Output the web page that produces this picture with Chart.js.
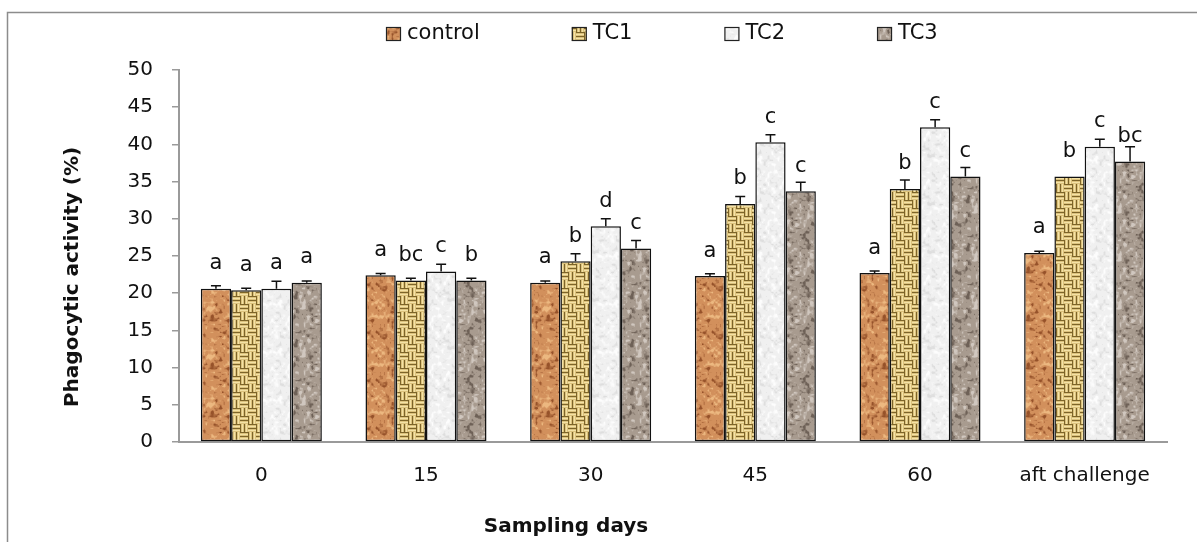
<!DOCTYPE html>
<html>
<head>
<meta charset="utf-8">
<script src="https://cdn.jsdelivr.net/npm/chart.js@4.4.1/dist/chart.umd.min.js"></script>
<style>
  html, body { margin: 0; padding: 0; background: #fff; }
  #wrap { position: relative; width: 1197px; height: 542px; }
</style>
</head>
<body>
<div id="wrap"><canvas id="phago" width="1197" height="542"></canvas></div>
<script>
// data
var categories = ['0', '15', '30', '45', '60', 'aft challenge'];
var seriesNames = ['control', 'TC1', 'TC2', 'TC3'];

var control = [20.6, 22.4, 21.4, 22.3, 22.7, 25.4];
var tc1 = [20.4, 21.7, 24.3, 32.0, 34.0, 35.7];
var tc2 = [20.6, 22.9, 29.0, 40.3, 42.3, 39.7];
var tc3 = [21.4, 21.7, 26.0, 33.7, 35.7, 37.7];

var controlErr = [0.4, 0.25, 0.25, 0.3, 0.3, 0.25];
var tc1Err = [0.25, 0.3, 1.0, 1.0, 1.2, 0];
var tc2Err = [1.0, 1.0, 1.0, 1.0, 1.0, 1.0];
var tc3Err = [0.25, 0.3, 1.1, 1.2, 1.2, 2.0];

var controlLetters = ['a', 'a', 'a', 'a', 'a', 'a'];
var tc1Letters = ['a', 'bc', 'b', 'b', 'b', 'b'];
var tc2Letters = ['a', 'c', 'd', 'c', 'c', 'c'];
var tc3Letters = ['a', 'b', 'c', 'c', 'c', 'bc'];

var yTicks = [0, 5, 10, 15, 20, 25, 30, 35, 40, 45, 50];

var font = '"DejaVu Sans"';
var axisGrey = '#9a9a9a';

// integer hash so the textures come out the same on every run
function hash(i, j, s) {
  var h = (i * 374761393 + j * 668265263 + s * 1442695041) | 0;
  h = Math.imul(h ^ (h >>> 13), 1274126177);
  h = h ^ (h >>> 16);
  return (h >>> 0) / 4294967296;
}

// tileable value noise
function vnoise(x, y, cell, n, s) {
  var gx = x / cell, gy = y / cell;
  var i0 = Math.floor(gx), j0 = Math.floor(gy);
  var fx = gx - i0, fy = gy - j0;
  fx = fx * fx * (3 - 2 * fx); fy = fy * fy * (3 - 2 * fy);
  var i1 = (i0 + 1) % n, j1 = (j0 + 1) % n;
  var a = hash(i0, j0, s), b = hash(i1, j0, s), c = hash(i0, j1, s), d = hash(i1, j1, s);
  return (a * (1 - fx) + b * fx) * (1 - fy) + (c * (1 - fx) + d * fx) * fy;
}

function speckle(base, dark, light, s) {
  var size = 48;
  var c = document.createElement('canvas');
  c.width = size; c.height = size;
  var g = c.getContext('2d');
  var img = g.createImageData(size, size);
  for (var y = 0; y < size; y++) {
    for (var x = 0; x < size; x++) {
      var t = 0.6 * vnoise(x, y, 4, 12, s) + 0.4 * vnoise(x, y, 2, 24, s + 7);
      var col = base, k = 0;
      if (t < 0.4) { col = dark; k = Math.min(1, (0.4 - t) * 5); }
      else if (t > 0.6) { col = light; k = Math.min(1, (t - 0.6) * 5); }
      var p = (y * size + x) * 4;
      for (var ch = 0; ch < 3; ch++) img.data[p + ch] = Math.round(base[ch] * (1 - k) + col[ch] * k);
      img.data[p + 3] = 255;
    }
  }
  g.putImageData(img, 0, 0);
  return g.createPattern(c, 'repeat');
}

function weave() {
  var c = document.createElement('canvas');
  c.width = 16; c.height = 16;
  var g = c.getContext('2d');
  g.fillStyle = '#dcc27c';
  g.fillRect(0, 0, 16, 16);
  for (var by = 0; by < 16; by += 8) {
    for (var bx = 0; bx < 16; bx += 8) {
      var horiz = ((bx + by) / 8) % 2 === 0;
      for (var k = 0; k < 8; k += 4) {
        g.fillStyle = '#7c6429';
        if (horiz) g.fillRect(bx, by + k, 8, 1);
        else g.fillRect(bx + k, by, 1, 8);
        g.fillStyle = '#f4e2a6';
        if (horiz) g.fillRect(bx, by + k + 2, 8, 1);
        else g.fillRect(bx + k + 2, by, 1, 8);
      }
    }
  }
  return g.createPattern(c, 'repeat');
}

var fills = [
  speckle([210, 144, 92], [150, 82, 42], [236, 184, 128], 1),
  weave(),
  speckle([240, 240, 240], [222, 222, 222], [253, 253, 253], 3),
  speckle([168, 155, 143], [110, 97, 87], [208, 199, 191], 4)
];

var values = [control, tc1, tc2, tc3];
var errs = [controlErr, tc1Err, tc2Err, tc3Err];
var letters = [controlLetters, tc1Letters, tc2Letters, tc3Letters];

var datasets = seriesNames.map(function (name, i) {
  return {
    label: name,
    data: values[i],
    errors: errs[i],
    letters: letters[i],
    backgroundColor: fills[i],
    borderColor: '#111',
    borderWidth: 1.5,
    borderSkipped: false,
    categoryPercentage: 0.735,
    barPercentage: 1.0
  };
});

// frame, error bars, letters, legend and axis titles
var decor = {
  id: 'decor',
  beforeDraw: function (chart) {
    var ctx = chart.ctx;
    ctx.save();
    ctx.strokeStyle = '#8c8c8c';
    ctx.lineWidth = 1.5;
    ctx.strokeRect(7.5, 12.5, 1300, 700);
    ctx.restore();
  },
  afterDatasetsDraw: function (chart) {
    var ctx = chart.ctx;
    var y = chart.scales.y;
    ctx.save();
    chart.data.datasets.forEach(function (ds, i) {
      var meta = chart.getDatasetMeta(i);
      meta.data.forEach(function (bar, j) {
        var e = ds.errors[j];
        if (e > 0) {
          var top = y.getPixelForValue(ds.data[j] + e);
          ctx.strokeStyle = '#111';
          ctx.lineWidth = 1.5;
          ctx.beginPath();
          ctx.moveTo(bar.x, bar.y);
          ctx.lineTo(bar.x, top);
          ctx.moveTo(bar.x - 5, top);
          ctx.lineTo(bar.x + 5, top);
          ctx.stroke();
        }
        ctx.fillStyle = '#111';
        ctx.font = '21px ' + font;
        ctx.textAlign = 'center';
        ctx.textBaseline = 'middle';
        ctx.fillText(ds.letters[j], bar.x, bar.y - 25);
      });
    });
    ctx.restore();
  },
  afterDraw: function (chart) {
    var ctx = chart.ctx;
    ctx.save();
    // legend
    ctx.font = '21px ' + font;
    ctx.textBaseline = 'middle';
    ctx.textAlign = 'left';
    var x = 386, yc = 34;
    chart.data.datasets.forEach(function (ds) {
      ctx.fillStyle = ds.backgroundColor;
      ctx.fillRect(x, yc - 7, 15, 14);
      ctx.strokeStyle = '#222';
      ctx.lineWidth = 1.2;
      ctx.strokeRect(x + 0.5, yc - 6.5, 14, 13);
      ctx.fillStyle = '#111';
      ctx.fillText(ds.label, x + 21, yc);
      x += 21 + ctx.measureText(ds.label).width + 92;
    });
    // axis titles
    ctx.font = 'bold 20px ' + font;
    ctx.textAlign = 'center';
    ctx.fillText('Sampling days', 566, 527);
    ctx.translate(73, 277);
    ctx.rotate(-Math.PI / 2);
    ctx.fillText('Phagocytic activity (%)', 0, 0);
    ctx.restore();
  }
};

new Chart(document.getElementById('phago'), {
  type: 'bar',
  data: { labels: categories, datasets: datasets },
  options: {
    responsive: false,
    animation: false,
    layout: { padding: { top: 70, right: 30, bottom: 0, left: 0 } },
    plugins: {
      legend: { display: false },
      tooltip: { enabled: false }
    },
    scales: {
      x: {
        grid: { display: true, drawOnChartArea: false, drawTicks: false },
        border: { display: true, color: axisGrey, width: 2 },
        ticks: { color: '#111', font: { family: 'DejaVu Sans', size: 20 }, padding: 22 },
        afterFit: function (s) { s.height = 100; }
      },
      y: {
        min: 0, max: 50,
        afterBuildTicks: function (s) { s.ticks = yTicks.map(function (v) { return { value: v }; }); },
        grid: { display: true, drawOnChartArea: false, drawTicks: true, tickLength: 7, color: axisGrey, lineWidth: 1.5 },
        border: { display: true, color: axisGrey, width: 2 },
        ticks: { color: '#111', font: { family: 'DejaVu Sans', size: 20 }, padding: 19 },
        afterFit: function (s) { s.width = 179; }
      }
    }
  },
  plugins: [decor]
});
</script>
</body>
</html>
